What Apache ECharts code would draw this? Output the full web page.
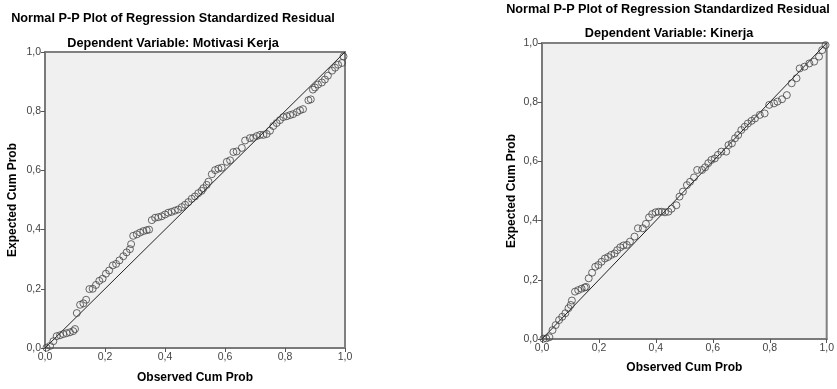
<!DOCTYPE html>
<html>
<head>
<meta charset="utf-8">
<script src="https://cdn.jsdelivr.net/npm/echarts@6/dist/echarts.min.js"></script>
<style>
  html, body { margin: 0; padding: 0; background: #fff; }
  #chart { width: 837px; height: 389px; }
</style>
</head>
<body>
<div id="chart"></div>
<script>
// P-P plot data
const leftObserved = [0.005, 0.017, 0.028, 0.039, 0.050, 0.061, 0.072, 0.083, 0.094, 0.100,
  0.106, 0.117, 0.128, 0.137, 0.148, 0.159, 0.170, 0.181, 0.192, 0.203,
  0.214, 0.226, 0.237, 0.248, 0.261, 0.272, 0.283, 0.287, 0.294, 0.306,
  0.317, 0.328, 0.339, 0.347, 0.356, 0.367, 0.378, 0.389, 0.400, 0.411,
  0.422, 0.433, 0.444, 0.456, 0.467, 0.478, 0.489, 0.500, 0.511, 0.522,
  0.528, 0.539, 0.545, 0.556, 0.567, 0.578, 0.589, 0.606, 0.617, 0.628,
  0.639, 0.656, 0.667, 0.683, 0.694, 0.706, 0.717, 0.728, 0.739, 0.750,
  0.761, 0.772, 0.783, 0.794, 0.806, 0.817, 0.827, 0.840, 0.850, 0.860,
  0.878, 0.886, 0.893, 0.900, 0.910, 0.923, 0.933, 0.943, 0.957, 0.967,
  0.977, 0.990, 0.995];
const leftExpected = [0.001, 0.007, 0.023, 0.040, 0.043, 0.047, 0.050, 0.053, 0.057, 0.064,
  0.118, 0.146, 0.151, 0.163, 0.199, 0.200, 0.213, 0.227, 0.234, 0.251,
  0.262, 0.279, 0.284, 0.296, 0.310, 0.323, 0.334, 0.351, 0.379, 0.384,
  0.390, 0.395, 0.398, 0.400, 0.432, 0.440, 0.442, 0.445, 0.451, 0.457,
  0.460, 0.464, 0.468, 0.476, 0.484, 0.493, 0.504, 0.512, 0.523, 0.531,
  0.540, 0.551, 0.562, 0.587, 0.601, 0.606, 0.609, 0.629, 0.634, 0.662,
  0.664, 0.676, 0.701, 0.709, 0.710, 0.716, 0.720, 0.720, 0.723, 0.734,
  0.750, 0.760, 0.770, 0.780, 0.783, 0.787, 0.790, 0.797, 0.803, 0.807,
  0.837, 0.840, 0.873, 0.880, 0.890, 0.897, 0.907, 0.920, 0.937, 0.947,
  0.957, 0.963, 0.985];

const rightObserved = [0.005, 0.015, 0.026, 0.037, 0.048, 0.060, 0.071, 0.082, 0.093, 0.101,
  0.105, 0.116, 0.127, 0.139, 0.150, 0.155, 0.164, 0.176, 0.187, 0.198,
  0.209, 0.221, 0.232, 0.243, 0.255, 0.264, 0.275, 0.286, 0.298, 0.309,
  0.325, 0.337, 0.354, 0.365, 0.376, 0.387, 0.399, 0.410, 0.421, 0.432,
  0.444, 0.455, 0.472, 0.483, 0.495, 0.509, 0.520, 0.534, 0.545, 0.562,
  0.573, 0.584, 0.595, 0.607, 0.618, 0.630, 0.647, 0.655, 0.667, 0.678,
  0.689, 0.700, 0.712, 0.723, 0.736, 0.748, 0.765, 0.782, 0.798, 0.815,
  0.827, 0.843, 0.860, 0.877, 0.894, 0.905, 0.922, 0.939, 0.956, 0.973,
  0.984, 0.996];
const rightExpected = [0.001, 0.002, 0.006, 0.030, 0.047, 0.064, 0.075, 0.087, 0.104, 0.115,
  0.130, 0.160, 0.165, 0.170, 0.174, 0.176, 0.205, 0.224, 0.244, 0.250,
  0.261, 0.272, 0.277, 0.284, 0.289, 0.300, 0.310, 0.316, 0.318, 0.329,
  0.346, 0.374, 0.374, 0.389, 0.411, 0.422, 0.428, 0.430, 0.430, 0.428,
  0.430, 0.440, 0.452, 0.481, 0.498, 0.520, 0.531, 0.546, 0.571, 0.571,
  0.580, 0.594, 0.605, 0.610, 0.622, 0.633, 0.633, 0.655, 0.661, 0.678,
  0.689, 0.706, 0.717, 0.728, 0.737, 0.745, 0.757, 0.762, 0.791, 0.796,
  0.802, 0.810, 0.824, 0.864, 0.881, 0.914, 0.920, 0.931, 0.937, 0.954,
  0.976, 0.993];

const tickValues = [0, 0.2, 0.4, 0.6, 0.8, 1.0];
const diagonal = [[0, 0], [1, 1]];

const FONT = "'Liberation Sans', Arial, sans-serif";
const fmt = v => v.toFixed(1).replace('.', ',');
const pairs = (xs, ys) => xs.map((x, i) => [x, ys[i]]);

const axisCommon = {
  type: 'value',
  min: tickValues[0],
  max: tickValues[tickValues.length - 1],
  interval: tickValues[1] - tickValues[0],
  splitLine: { show: false },
  axisLine: { show: true, lineStyle: { color: '#7a7a7a', width: 2 } },
  axisTick: { show: true, length: 4, lineStyle: { color: '#555', width: 1 } },
  axisLabel: { color: '#444', fontSize: 10.5, fontFamily: FONT, margin: 4,
    formatter: fmt, showMinLabel: true, showMaxLabel: true },
  nameLocation: 'middle',
  nameTextStyle: { color: '#000', fontSize: 12, fontWeight: 'bold', fontFamily: FONT }
};

const xAxis = (idx, gap) => Object.assign({}, axisCommon, {
  gridIndex: idx, name: 'Observed Cum Prob', nameGap: gap
});
const yAxis = (idx, gap) => Object.assign({}, axisCommon, {
  gridIndex: idx, name: 'Expected Cum Prob', nameGap: gap, nameRotate: 90
});

const scatter = (idx, xs, ys) => ({
  type: 'scatter',
  xAxisIndex: idx,
  yAxisIndex: idx,
  data: pairs(xs, ys),
  symbol: 'circle',
  symbolSize: 7,
  itemStyle: { color: 'rgba(0,0,0,0)', borderColor: '#444', borderWidth: 1 },
  z: 3
});
const line = idx => ({
  type: 'line',
  xAxisIndex: idx,
  yAxisIndex: idx,
  data: diagonal,
  symbol: 'none',
  lineStyle: { color: '#222', width: 1 },
  z: 2
});

const titleText = (text, x, y) => ({
  type: 'text',
  x: x,
  y: y,
  style: { text: text, fill: '#000', font: 'bold 12.7px ' + FONT, textAlign: 'center', textVerticalAlign: 'middle' }
});

const chart = echarts.init(document.getElementById('chart'));
chart.setOption({
  animation: false,
  backgroundColor: '#fff',
  grid: [
    { left: 45, top: 52, width: 300, height: 300, show: true, backgroundColor: '#f0f0f0',
      borderColor: '#808080', borderWidth: 2 },
    { left: 542, top: 43, width: 296, height: 296, show: true, backgroundColor: '#f0f0f0',
      borderColor: '#808080', borderWidth: 2 }
  ],
  xAxis: [xAxis(0, 24), xAxis(1, 23)],
  yAxis: [yAxis(0, 26), yAxis(1, 24)],
  series: [
    line(0), scatter(0, leftObserved, leftExpected),
    line(1), scatter(1, rightObserved, rightExpected)
  ],
  graphic: [
    titleText('Normal P-P Plot of Regression Standardized Residual', 173, 18),
    titleText('Dependent Variable: Motivasi Kerja', 173, 43),
    titleText('Normal P-P Plot of Regression Standardized Residual', 668, 9),
    titleText('Dependent Variable: Kinerja', 669, 33)
  ]
});
</script>
</body>
</html>
